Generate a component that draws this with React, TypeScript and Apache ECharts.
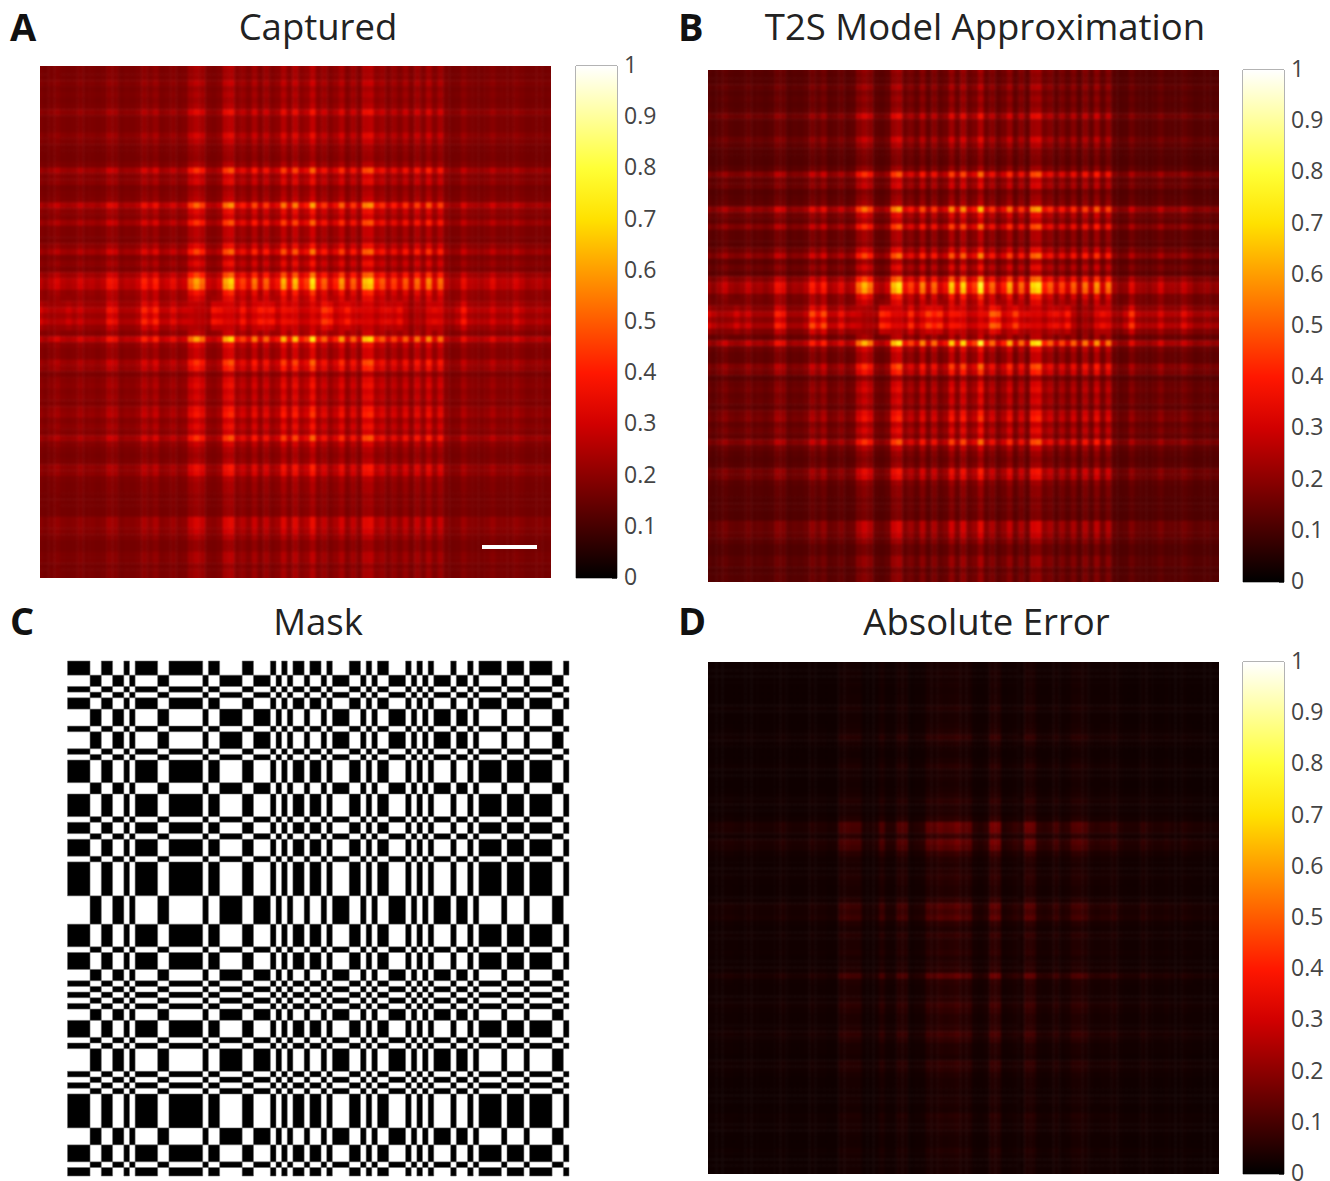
import React, { useEffect, useRef } from "react";
import * as echarts from "echarts";

// Each heat panel is built from profiles read along its rows and columns.
const colProfile = [.3,.22,.3,.38,.28,.25,.28,.38,.28,.3,.25,.3,.5,.45,.25,.3,.28,.35,.55,.4,.55,.3,.35,.45,.3,.35,.7,.85,.72,.35,.3,.4,.85,.95,.5,.62,.42,.75,.4,.7,.4,.5,.88,.5,.9,.5,.62,1,.5,.7,.4,.55,.82,.4,.7,.4,.9,.95,.55,.68,.4,.62,.4,.68,.35,.72,.4,.78,.4,.72,.3,.22,.25,.45,.3,.28,.25,.3,.42,.28,.3,.28,.38,.3,.22,.25,.28,.22,.25];
const rowProfile = [.3,.25,.25,.35,.25,.3,.25,.3,.5,.3,.3,.3,.45,.35,.25,.22,.2,.3,.7,.4,.45,.25,.3,.35,.85,.5,.4,.7,.35,.35,.3,.5,.75,.35,.5,.35,.75,1,.95,.6,.45,.3,.25,.25,.25,.25,.35,1,.5,.4,.4,.7,.6,.3,.45,.5,.4,.45,.35,.55,.6,.4,.5,.4,.7,.4,.3,.25,.3,.55,.5,.3,.25,.25,.2,.22,.2,.2,.45,.45,.4,.3,.2,.2,.3,.3,.2,.25,.25];
const bandCol = [.55,.4,.3,.3,.35,.5,.35,.45,.3,.3,.3,.3,.7,.6,.3,.3,.3,.4,.85,.6,.85,.4,.4,.6,.4,.45,.3,.15,.2,.3,.8,.7,.35,.3,.4,.7,.4,.45,.85,.6,.8,.4,.5,.6,.4,.35,.35,.35,.5,.9,.9,.4,.4,.85,.4,.5,.3,.3,.35,.45,.6,.4,.7,.25,.2,.2,.25,.35,.6,.4,.3,.3,.45,.8,.4,.35,.35,.35,.5,.35,.35,.35,.55,.4,.3,.3,.35,.3,.3];
const bandRow = [0,0,0,0,0,0,0,0,0,0,0,0,0,0,0,0,0,0,0,0,0,0,0,0,0,0,0,0,0,0,0,0,0,0,0,0,0,0,0,0,.15,.55,1,.65,1,.5,.1,0,0,0,0,0,0,0,0,0,0,0,0,0,0,0,0,0,0,0,0,0,0,0,0,0,0,0,0,0,0,0,0,0,0,0,0,0,0,0,0,0,0];
const errCol = [.1,.1,.12,.15,.15,.12,.1,.15,.12,.1,.1,.1,.15,.2,.12,.1,.1,.12,.2,.15,.15,.1,.12,.5,.55,.5,.5,.15,.15,.2,.55,.2,.2,.6,.6,.15,.2,.25,.7,.65,.8,.7,.75,.9,.7,.7,.25,.2,.3,.95,.9,.2,.25,.35,.3,.85,.8,.3,.25,.3,.5,.25,.3,.6,.65,.55,.3,.25,.3,.3,.4,.2,.15,.15,.15,.3,.2,.15,.15,.2,.15,.12,.2,.15,.12,.12,.1,.1,.1];
const errRow = [.1,.1,.12,.1,.12,.1,.12,.12,.2,.12,.12,.15,.2,.35,.2,.12,.1,.15,.25,.15,.15,.12,.15,.2,.3,.2,.2,.3,.9,.85,.45,.9,.75,.4,.25,.2,.25,.3,.25,.2,.2,.35,.7,.55,.7,.3,.2,.35,.25,.25,.3,.2,.25,.3,.8,.3,.25,.25,.3,.45,.35,.25,.25,.3,.5,.35,.2,.2,.15,.35,.3,.2,.15,.15,.12,.15,.15,.12,.25,.2,.2,.15,.12,.12,.2,.15,.12,.12,.12];

// Mask: run boundaries along the first row and first column, alternating black and white, starting black.
const maskColEdges = [0,4,6,8,10,11,12,16,18,24,25,27,31,33,36,37,38,39,40,42,43,45,46,47,50,52,53,54,55,57,60,61,62,63,64,65,68,69,71,72,73,77,78,81,82,86,88,89];
const maskRowEdges = [-2.5,0,2,3,4,6,9,10,13,14,15,19,21,25,26,28,29,32,33,39,44,48,49,52,54,55,56,57,58,59,61,64,65,66,70,71,72,73,74,80,83,86,87,88.5];

const titles = ["Captured", "T2S Model Approximation", "Mask", "Absolute Error"];
const letters = ["A", "B", "C", "D"];
const colorbarTicks = [0, 0.1, 0.2, 0.3, 0.4, 0.5, 0.6, 0.7, 0.8, 0.9, 1];
// Colours of the colour bar at 0, 0.1, ... 1
const hotColors = ["#000000", "#460000", "#8c0000", "#d10000", "#ff1700", "#ff5a00", "#ff9d00", "#ffe100", "#ffff36", "#ffff9b", "#ffffff"];

const N = colProfile.length;
const indices = colProfile.map((_, i) => String(i));

function captured(r: number, c: number) {
  const p = rowProfile[r] * colProfile[c];
  return 0.145 + 0.02 * (rowProfile[r] + colProfile[c]) + 0.12 * p + 0.42 * Math.pow(p, 1.5) + 0.26 * bandRow[r] * bandCol[c];
}
function approximated(r: number, c: number) {
  const p = rowProfile[r] * colProfile[c];
  return 0.09 + 0.025 * (rowProfile[r] + colProfile[c]) + 0.12 * p + 0.52 * Math.pow(p, 1.5) + 0.38 * bandRow[r] * bandCol[c];
}
function absError(r: number, c: number) {
  return 0.018 + 0.005 * (errRow[r] + errCol[c]) + 0.17 * errRow[r] * errCol[c];
}
function cells(fn: (r: number, c: number) => number) {
  const out: number[][] = [];
  for (let r = 0; r < N; r++) for (let c = 0; c < N; c++) out.push([c, r, +fn(r, c).toFixed(3)]);
  return out;
}
function maskRects() {
  const out: number[][] = [];
  for (let r = 0; r < maskRowEdges.length - 1; r++)
    for (let c = 0; c < maskColEdges.length - 1; c++)
      if ((r + c) % 2 === 0) out.push([maskColEdges[c], maskColEdges[c + 1], maskRowEdges[r], maskRowEdges[r + 1]]);
  return out;
}

const heatBoxes = [
  { x: 40, y: 66, w: 511, h: 512 },
  { x: 708, y: 70, w: 511, h: 512 },
  { x: 708, y: 662, w: 511, h: 512 },
];
const barBoxes = [
  { x: 576, y: 66, w: 41, h: 512 },
  { x: 1243, y: 70, w: 41, h: 512 },
  { x: 1243, y: 662, w: 41, h: 512 },
];
const maskBox = { x: 67.5, y: 661, w: 501.5, h: 515 };
const bleed = 3;

const W = 1330, H = 1181;
const clip = heatBoxes.map((b) => `M${b.x} ${b.y}H${b.x + b.w}V${b.y + b.h}H${b.x}Z`).join(" ");

export default function App() {
  const heatRef = useRef<HTMLDivElement>(null);
  const topRef = useRef<HTMLDivElement>(null);
  useEffect(() => {
    const heat = echarts.init(heatRef.current!, undefined, { renderer: "svg" });
    const datasets = [cells(captured), cells(approximated), cells(absError)];
    heat.setOption({
      animation: false,
      grid: heatBoxes.map((b) => ({ left: b.x - bleed, top: b.y - bleed, width: b.w + 2 * bleed, height: b.h + 2 * bleed, outerBoundsMode: "none" })),
      xAxis: heatBoxes.map((_, i) => ({ type: "category", data: indices, gridIndex: i, show: false })),
      yAxis: heatBoxes.map((_, i) => ({ type: "category", data: indices, gridIndex: i, show: false, inverse: true })),
      visualMap: { show: false, min: 0, max: 1, calculable: false, inRange: { color: hotColors } },
      series: datasets.map((data, i) => ({
        type: "heatmap", xAxisIndex: i, yAxisIndex: i, data, progressive: 0, silent: true,
        emphasis: { disabled: true }, itemStyle: { borderWidth: 0 },
      })),
    });

    const top = echarts.init(topRef.current!, undefined, { renderer: "svg" });
    const gradient = {
      type: "linear", x: 0, y: 1, x2: 0, y2: 0,
      colorStops: hotColors.map((color, i) => ({ offset: i / (hotColors.length - 1), color })),
    };
    const titleX = [313, 980, 313, 981.5];
    const titleY = [2.5, 2.5, 597, 597];
    const letterX = [10, 678, 10, 678];
    const letterY = [6.5, 6.5, 601, 601];
    const boxes = [...barBoxes, maskBox];
    top.setOption({
      animation: false,
      title: [
        ...titles.map((text, i) => ({
          text, left: titleX[i], top: titleY[i], textAlign: "center",
          textStyle: { fontFamily: "Open Sans", fontSize: 36.5, fontWeight: 400, color: "#222" },
        })),
        ...letters.map((text, i) => ({
          text, left: letterX[i], top: letterY[i], padding: 0,
          textStyle: { fontFamily: "Open Sans", fontSize: 38, fontWeight: 700, color: "#111" },
        })),
      ],
      grid: boxes.map((b, i) => ({
        left: b.x, top: b.y, width: b.w, height: b.h, outerBoundsMode: "none",
        show: i < 3, borderColor: "#666", borderWidth: 1, backgroundColor: "transparent",
      })),
      xAxis: [
        ...barBoxes.map((_, i) => ({ type: "category", data: ["hot"], gridIndex: i, show: false })),
        { type: "value", min: 0, max: 89, gridIndex: 3, show: false },
      ],
      yAxis: [
        ...barBoxes.map((_, i) => ({
          type: "value", min: 0, max: 1, interval: 0.1, gridIndex: i, position: "right",
          splitLine: { show: false }, axisLine: { show: false },
          axisTick: { show: true, inside: true, length: 5, lineStyle: { color: "#444" } },
          axisLabel: {
            show: true, margin: 7, color: "#444", fontFamily: "Open Sans", fontSize: 23, verticalAlign: "bottom", lineHeight: 4,
            formatter: (v: number) => String(colorbarTicks.find((t) => Math.abs(t - v) < 1e-6) ?? v),
          },
        })),
        { type: "value", min: -2.5, max: 88.5, inverse: true, gridIndex: 3, show: false },
      ],
      series: [
        ...barBoxes.map((_, i) => ({
          type: "bar", xAxisIndex: i, yAxisIndex: i, data: [1], barWidth: "100%", silent: true,
          itemStyle: { color: gradient },
        })),
        {
          type: "custom", xAxisIndex: 3, yAxisIndex: 3, data: maskRects(), silent: true,
          encode: { x: [0, 1], y: [2, 3] },
          renderItem: (_: any, api: any) => {
            const p0 = api.coord([api.value(0), api.value(2)]);
            const p1 = api.coord([api.value(1), api.value(3)]);
            return {
              type: "rect",
              shape: { x: p0[0], y: p0[1], width: p1[0] - p0[0], height: p1[1] - p0[1] },
              style: { fill: "#000", stroke: "rgba(110,110,110,0.7)", lineWidth: 0.8 },
            };
          },
        },
      ],
      graphic: [{ type: "rect", shape: { x: 482, y: 545, width: 55, height: 4 }, style: { fill: "#fff" } }],
    });
    return () => { heat.dispose(); top.dispose(); };
  }, []);
  return (
    <div style={{ position: "absolute", left: 0, top: 0, width: W, height: H, overflow: "hidden", background: "#fff" }}>
      <div ref={heatRef} style={{ position: "absolute", left: 0, top: 0, width: W, height: H, filter: "blur(1.3px)", clipPath: `path('${clip}')` }} />
      <div ref={topRef} style={{ position: "absolute", left: 0, top: 0, width: W, height: H }} />
    </div>
  );
}
